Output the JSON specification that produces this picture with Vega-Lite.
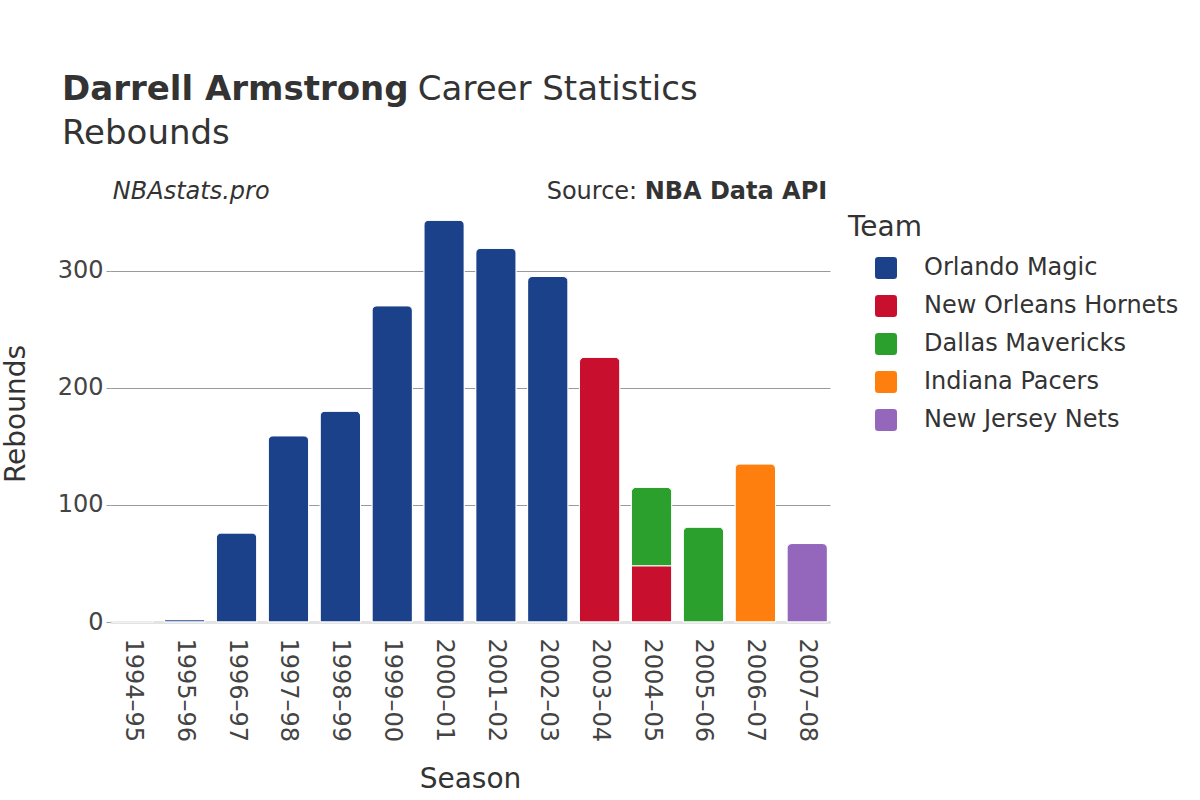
{
  "$schema": "https://vega.github.io/schema/vega-lite/v6.json",
  "autosize": {"type": "none"},
  "padding": {"left": 110, "top": 205, "right": 370, "bottom": 178},
  "width": 720,
  "height": 417,
  "background": "white",
  "config": {
    "font": "DejaVu Sans",
    "view": {"stroke": null}
  },
  "title": {
    "text": "Darrell Armstrong",
    "subtitle": "Rebounds",
    "anchor": "start",
    "frame": "group",
    "dx": -48,
    "offset": -78,
    "fontSize": 34,
    "fontWeight": "bold",
    "color": "#333333",
    "subtitleFontSize": 34,
    "subtitleColor": "#333333",
    "subtitlePadding": 10
  },
  "layer": [
    {
      "data": {
        "values": [
          {"Season": "1994–95", "Team": "Orlando Magic", "Rebounds": 1},
          {"Season": "1995–96", "Team": "Orlando Magic", "Rebounds": 2},
          {"Season": "1996–97", "Team": "Orlando Magic", "Rebounds": 76},
          {"Season": "1997–98", "Team": "Orlando Magic", "Rebounds": 159},
          {"Season": "1998–99", "Team": "Orlando Magic", "Rebounds": 180},
          {"Season": "1999–00", "Team": "Orlando Magic", "Rebounds": 270},
          {"Season": "2000–01", "Team": "Orlando Magic", "Rebounds": 343},
          {"Season": "2001–02", "Team": "Orlando Magic", "Rebounds": 319},
          {"Season": "2002–03", "Team": "Orlando Magic", "Rebounds": 295},
          {"Season": "2003–04", "Team": "New Orleans Hornets", "Rebounds": 226},
          {"Season": "2004–05", "Team": "New Orleans Hornets", "Rebounds": 48},
          {"Season": "2004–05", "Team": "Dallas Mavericks", "Rebounds": 67},
          {"Season": "2005–06", "Team": "Dallas Mavericks", "Rebounds": 81},
          {"Season": "2006–07", "Team": "Indiana Pacers", "Rebounds": 135},
          {"Season": "2007–08", "Team": "New Jersey Nets", "Rebounds": 67}
        ]
      },
      "mark": {"type": "bar", "cornerRadiusTopLeft": 5, "cornerRadiusTopRight": 5, "stroke": "white", "strokeWidth": 1},
      "encoding": {
        "x": {
          "field": "Season",
          "type": "nominal",
          "scale": {"paddingInner": 0.22, "paddingOuter": 0.05},
          "axis": {
            "title": "Season",
            "titleFontSize": 28,
            "titleFontWeight": "normal",
            "titleColor": "#333333",
            "titlePadding": 24,
            "labelAngle": 90,
            "labelFontSize": 24,
            "labelColor": "#444444",
            "labelPadding": 16,
            "ticks": false,
            "domainColor": "#e3e3e3",
            "domainWidth": 3
          }
        },
        "y": {
          "field": "Rebounds",
          "type": "quantitative",
          "stack": "zero",
          "scale": {"domain": [0, 356], "nice": false},
          "axis": {
            "title": "Rebounds",
            "titleFontSize": 28,
            "titleFontWeight": "normal",
            "titleColor": "#333333",
            "titlePadding": 27,
            "values": [0, 100, 200, 300],
            "labelFontSize": 24,
            "labelColor": "#444444",
            "labelPadding": 3,
            "tickSize": 4,
            "tickColor": "#999999",
            "gridColor": "#999999",
            "gridWidth": 1,
            "domain": false
          }
        },
        "color": {
          "field": "Team",
          "type": "nominal",
          "sort": ["Orlando Magic", "New Orleans Hornets", "Dallas Mavericks", "Indiana Pacers", "New Jersey Nets"],
          "scale": {
            "domain": ["Orlando Magic", "New Orleans Hornets", "Dallas Mavericks", "Indiana Pacers", "New Jersey Nets"],
            "range": ["#1b418a", "#c8102e", "#2ca02c", "#ff7f0e", "#9467bd"]
          },
          "legend": {
            "title": "Team",
            "orient": "none",
            "legendX": 738,
            "legendY": 9,
            "titleFontSize": 28,
            "titleFontWeight": "normal",
            "titleColor": "#333333",
            "titlePadding": 14,
            "labelFontSize": 24,
            "labelColor": "#333333",
            "labelLimit": 400,
            "labelOffset": 26,
            "symbolOffset": 26,
            "symbolSize": 484,
            "symbolType": "M-0.7,-1H0.7Q1,-1 1,-0.7V0.7Q1,1 0.7,1H-0.7Q-1,1 -1,0.7V-0.7Q-1,-1 -0.7,-1Z",
            "symbolStrokeWidth": 0,
            "rowPadding": 14,
            "padding": 0
          }
        }
      }
    },
    {
      "data": {"values": [{"label": "NBAstats.pro"}]},
      "mark": {"type": "text", "align": "left", "baseline": "middle", "fontStyle": "italic", "fontSize": 24, "color": "#333333", "dx": -20, "dy": -13},
      "encoding": {
        "x": {"datum": "1994–95", "type": "nominal"},
        "y": {"datum": 356, "type": "quantitative"},
        "text": {"field": "label"}
      }
    },
    {
      "data": {"values": [{"label": "NBA Data API"}]},
      "mark": {"type": "text", "align": "right", "baseline": "middle", "fontWeight": "bold", "fontSize": 24, "color": "#333333", "dx": 20, "dy": -13},
      "encoding": {
        "x": {"datum": "2007–08", "type": "nominal"},
        "y": {"datum": 356, "type": "quantitative"},
        "text": {"field": "label"}
      }
    },
    {
      "data": {"values": [{"label": "Source:"}]},
      "mark": {"type": "text", "align": "right", "baseline": "middle", "fontSize": 24, "color": "#333333", "dx": -170, "dy": -13},
      "encoding": {
        "x": {"datum": "2007–08", "type": "nominal"},
        "y": {"datum": 356, "type": "quantitative"},
        "text": {"field": "label"}
      }
    },
    {
      "data": {"values": [{"label": "Career Statistics"}]},
      "mark": {"type": "text", "align": "left", "baseline": "middle", "fontSize": 34, "color": "#333333", "dx": 285, "dy": -115},
      "encoding": {
        "x": {"datum": "1994–95", "type": "nominal"},
        "y": {"datum": 356, "type": "quantitative"},
        "text": {"field": "label"}
      }
    }
  ]
}
